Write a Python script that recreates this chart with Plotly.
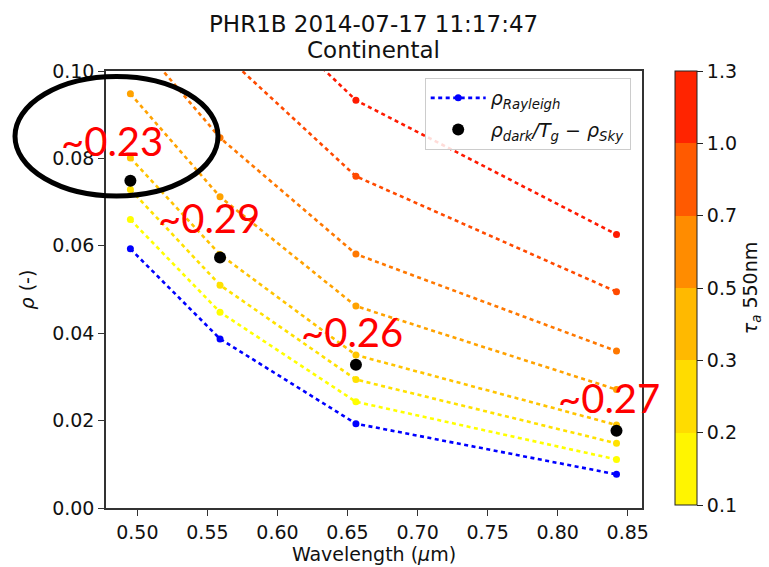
import plotly.graph_objects as go

# Wavelengths of the four PHR1B bands (µm)
wavelength = [0.495, 0.559, 0.656, 0.842]

# Rayleigh-only reflectance
rho_rayleigh = [0.0593, 0.0387, 0.0193, 0.0077]

# Dark-pixel reflectance corrected for gas transmission and sky reflection
rho_dark = [0.0749, 0.0573, 0.0328, 0.0177]

# Modelled path reflectance for each aerosol optical thickness at 550 nm
tau_levels = [0.1, 0.2, 0.3, 0.5, 0.7, 1.0, 1.3]
rho_tau_01 = [0.0660, 0.0448, 0.0243, 0.0111]
rho_tau_02 = [0.0729, 0.0510, 0.0294, 0.0148]
rho_tau_03 = [0.0801, 0.0580, 0.0350, 0.0190]
rho_tau_05 = [0.0948, 0.0712, 0.0462, 0.0271]
rho_tau_07 = [0.1088, 0.0847, 0.0581, 0.0359]
rho_tau_10 = [0.1320, 0.1047, 0.0759, 0.0495]
rho_tau_13 = [0.1550, 0.1232, 0.0933, 0.0626]
rho_tau = [rho_tau_01, rho_tau_02, rho_tau_03, rho_tau_05,
           rho_tau_07, rho_tau_10, rho_tau_13]

# Estimated optical thickness retrieved in each band
aot_labels = ["~0.23", "~0.29", "~0.26", "~0.27"]

line_colors = ["#FFFF00", "#FFE100", "#FFC400", "#FFA200",
               "#FF7800", "#FF4A00", "#FF1A00"]
bin_colors = ["#FFF500", "#FFDC00", "#FFB900", "#FF8C00", "#FF5A00", "#FF2400"]
cbar_ticks = ["0.1", "0.2", "0.3", "0.5", "0.7", "1.0", "1.3"]

FONT = "DejaVu Sans"
DASH = "4px,3.5px"

# plot-area geometry in pixels
W, H = 769, 567
L, R, T, B = 106, 642, 71, 508
PW, PH = R - L, B - T


def px(x):
    return (x - L) / PW


def py(y):
    return (B - y) / PH


fig = go.Figure()

for tau, vals, col in zip(tau_levels, rho_tau, line_colors):
    fig.add_trace(go.Scatter(
        x=wavelength, y=vals, mode="lines+markers",
        line=dict(color=col, width=2.6, dash=DASH),
        marker=dict(color=col, size=7),
        name=f"τ={tau}", showlegend=False, hoverinfo="skip",
    ))

fig.add_trace(go.Scatter(
    x=wavelength, y=rho_rayleigh, mode="lines+markers",
    line=dict(color="#0000FF", width=2.6, dash=DASH),
    marker=dict(color="#0000FF", size=7),
    name="<i>ρ<sub>Rayleigh</sub></i>", legendgroup="rayleigh",
))

fig.add_trace(go.Scatter(
    x=wavelength, y=rho_dark, mode="markers",
    marker=dict(color="black", size=12),
    name="<i>ρ<sub>dark</sub>/T<sub>g</sub></i> − <i>ρ<sub>Sky</sub></i>",
    legendgroup="dark",
))

# discrete colour bar for the optical-thickness levels
nb = len(bin_colors)
scale = []
for i, c in enumerate(bin_colors):
    scale.append([i / nb, c])
    scale.append([(i + 1) / nb, c])

fig.add_trace(go.Scatter(
    x=[0.7], y=[0.05], mode="markers",
    marker=dict(
        size=1, opacity=0, color=[0], cmin=0, cmax=nb,
        colorscale=scale, showscale=True,
        colorbar=dict(
            x=px(675), xanchor="left", xpad=0,
            y=1.0, yanchor="top", ypad=0,
            len=(505 - T) / PH, lenmode="fraction",
            thickness=22, thicknessmode="pixels",
            outlinewidth=1, outlinecolor="#222",
            tickmode="array", tickvals=list(range(nb + 1)), ticktext=cbar_ticks,
            ticks="outside", ticklen=6, tickcolor="#222",
            tickfont=dict(family=FONT, size=19, color="#111"),
            title=dict(text="<i>τ<sub>a</sub></i> 550nm", side="right",
                       font=dict(family=FONT, size=19, color="#111")),
        ),
    ),
    showlegend=False, hoverinfo="skip",
))

axis_common = dict(
    showline=True, linecolor="#333", linewidth=1.5, mirror=True,
    ticks="outside", ticklen=6, tickcolor="#333", tickwidth=1.2,
    showgrid=False, zeroline=False,
    tickfont=dict(family=FONT, size=19, color="#111"),
)

fig.update_xaxes(
    range=[0.4776, 0.8602], tickmode="array",
    tickvals=[0.50, 0.55, 0.60, 0.65, 0.70, 0.75, 0.80, 0.85],
    ticktext=["0.50", "0.55", "0.60", "0.65", "0.70", "0.75", "0.80", "0.85"],
    title=dict(text="Wavelength (<i>μ</i>m)", standoff=0,
               font=dict(family=FONT, size=19, color="#111")),
    **axis_common,
)
fig.update_yaxes(
    range=[0, 0.1], tickmode="array",
    tickvals=[0.0, 0.02, 0.04, 0.06, 0.08, 0.10],
    ticktext=["0.00", "0.02", "0.04", "0.06", "0.08", "0.10"],
    title=dict(text="<i>ρ</i> (-)", standoff=12,
               font=dict(family=FONT, size=19, color="#111")),
    **axis_common,
)

annotations = [
    dict(text="PHR1B 2014-07-17 11:17:47", x=px(373.5), y=py(24),
         xref="paper", yref="paper", xanchor="center", yanchor="middle",
         showarrow=False, font=dict(family=FONT, size=23, color="#111")),
    dict(text="Continental", x=px(373.5), y=py(50),
         xref="paper", yref="paper", xanchor="center", yanchor="middle",
         showarrow=False, font=dict(family=FONT, size=23, color="#111")),
]

label_pos = [(112, 141), (208.5, 218), (352, 332), (609, 398)]
for txt, (lx, ly) in zip(aot_labels, label_pos):
    annotations.append(dict(
        text=txt, x=px(lx), y=py(ly), xref="paper", yref="paper",
        xanchor="center", yanchor="middle", showarrow=False,
        font=dict(family="Lato", size=40, color="#FF0000"),
    ))

fig.update_layout(
    width=W, height=H,
    margin=dict(l=L, r=W - R, t=T, b=H - B, autoexpand=False),
    paper_bgcolor="white", plot_bgcolor="white",
    font=dict(family=FONT, size=19, color="#111"),
    legend=dict(
        x=px(630.7), xanchor="right", y=py(78), yanchor="top",
        bgcolor="rgba(255,255,255,0.85)", bordercolor="#cccccc", borderwidth=1,
        font=dict(family=FONT, size=19, color="#111"),
        itemwidth=55, tracegroupgap=4,
    ),
    annotations=annotations,
    shapes=[dict(
        type="circle", xref="paper", yref="paper",
        x0=px(15), x1=px(218), y0=py(196), y1=py(76.5),
        line=dict(color="black", width=5), layer="above",
    )],
)

fig.write_html("out.html")
